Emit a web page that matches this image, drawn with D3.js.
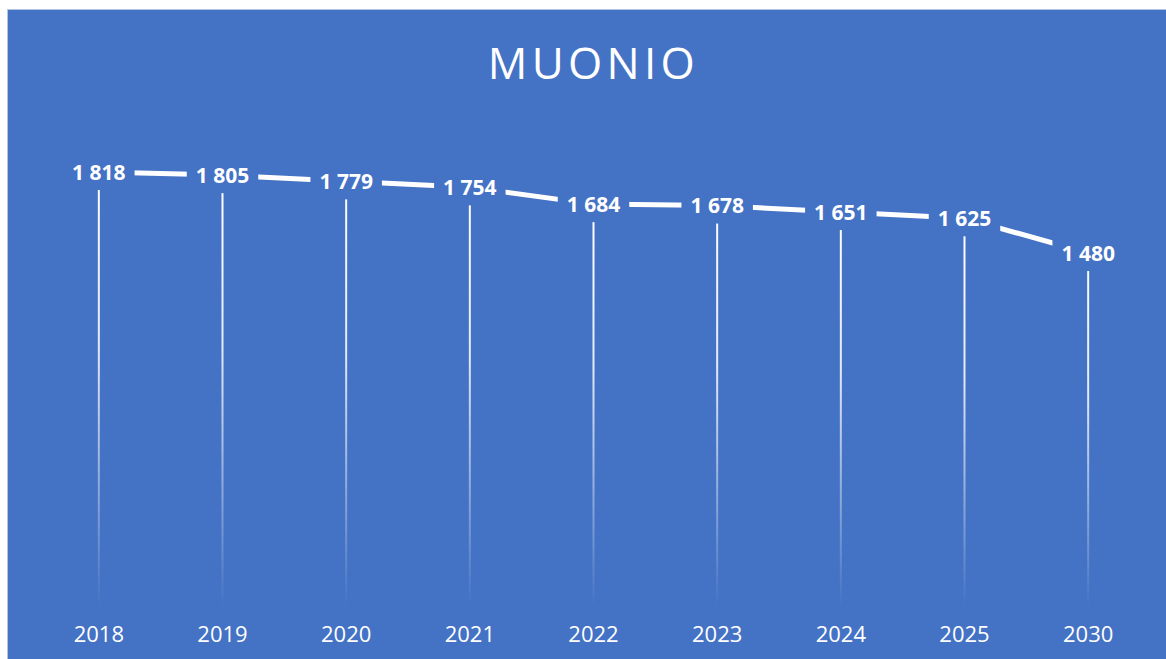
<!DOCTYPE html>
<html>
<head>
<meta charset="utf-8">
<script src="https://cdn.jsdelivr.net/npm/d3@7"></script>
<style>
html,body{margin:0;padding:0;background:#fff;}
svg{display:block;}
</style>
</head>
<body>
<svg id="chart" width="1166" height="659"></svg>
<script>
const title = "MUONIO";
const years = ["2018","2019","2020","2021","2022","2023","2024","2025","2030"];
const population = [1818,1805,1779,1754,1684,1678,1651,1625,1480];
const yDomain = [0, 2000];

const W = 1166, H = 659;
const bg = "#4472C4";
const svg = d3.select("#chart");

svg.append("rect").attr("x",7.5).attr("y",9.5).attr("width",W).attr("height",H)
  .attr("fill",bg).attr("stroke","#b4c5e4").attr("stroke-width",1);

const x = d3.scaleBand().domain(years).range([37,1150]).padding(0);
const y = d3.scaleLinear().domain(yDomain).range([607.6,128.4]);
const cx = d => x(d) + x.bandwidth()/2;

const data = years.map((yr,i)=>({yr, v: population[i]}));

// title
svg.append("text").attr("x",593.5).attr("y",79).attr("text-anchor","middle")
  .attr("font-family","Open Sans").attr("font-size",44).attr("letter-spacing",4.3)
  .attr("fill","#fff").text(title);

// gradients for drop lines
const defs = svg.append("defs");
data.forEach((d,i)=>{
  const g = defs.append("linearGradient").attr("id","dg"+i)
    .attr("gradientUnits","userSpaceOnUse")
    .attr("x1",0).attr("x2",0).attr("y1",y(d.v)).attr("y2",y(0));
  g.append("stop").attr("offset","0%").attr("stop-color","#fff").attr("stop-opacity",1);
  g.append("stop").attr("offset","40%").attr("stop-color","#fff").attr("stop-opacity",0.85);
  g.append("stop").attr("offset","100%").attr("stop-color","#fff").attr("stop-opacity",0);
});

svg.append("g").selectAll("line").data(data).join("line")
  .attr("x1",d=>cx(d.yr)).attr("x2",d=>cx(d.yr))
  .attr("y1",d=>y(d.v)).attr("y2",y(0))
  .attr("stroke",(d,i)=>`url(#dg${i})`).attr("stroke-width",2);

// line
svg.append("path").datum(data)
  .attr("d", d3.line().x(d=>cx(d.yr)).y(d=>y(d.v)))
  .attr("fill","none").attr("stroke","#fff").attr("stroke-width",5);

// labels
const fmt = v => d3.format(",")(v).replace(/,/g," ");
const lab = svg.append("g").selectAll("g").data(data).join("g")
  .attr("transform",d=>`translate(${cx(d.yr)},${y(d.v)})`);
lab.each(function(d){
  const g = d3.select(this);
  const t = g.append("text").attr("text-anchor","middle").attr("dy","0.36em")
    .attr("font-family","Open Sans").attr("font-weight",700).attr("font-size",21)
    .attr("fill","#fff").text(fmt(d.v));
  const bb = t.node().getBBox();
  g.insert("rect","text").attr("x",bb.x-9).attr("y",-18).attr("width",bb.width+18).attr("height",36)
    .attr("fill",bg);
});

// x axis labels
svg.append("g").selectAll("text").data(years).join("text")
  .attr("x",d=>cx(d)).attr("y",642).attr("text-anchor","middle")
  .attr("font-family","Open Sans").attr("font-size",22).attr("fill","#fff").text(d=>d);
</script>
</body>
</html>
